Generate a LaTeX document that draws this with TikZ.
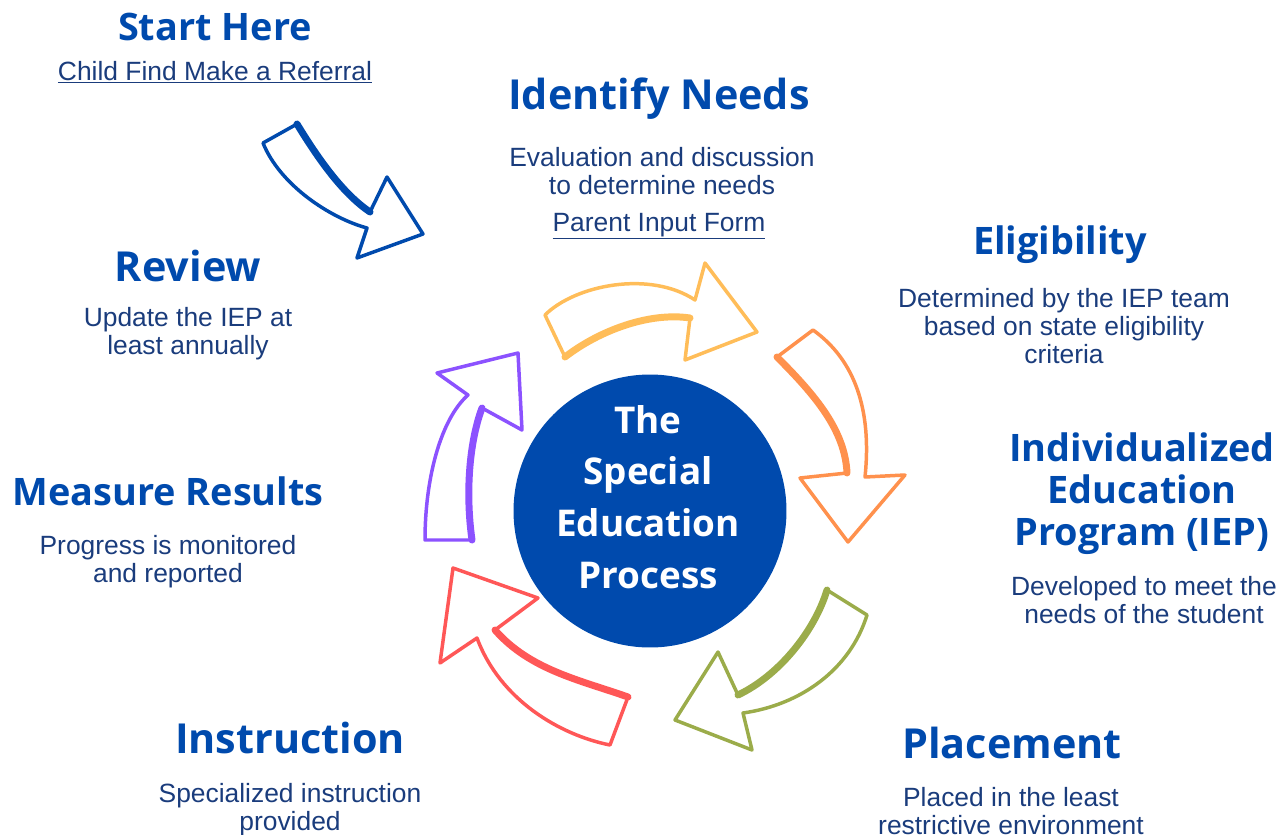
\documentclass[tikz,border=0pt]{standalone}
\usepackage{fontspec}
\setmainfont{Liberation Sans}
\newfontfamily\headfont{Open Sans}
\usetikzlibrary{positioning}
\definecolor{iepblue}{HTML}{004AAD}
\definecolor{iepnavy}{HTML}{1A3C7C}
\definecolor{iepyellow}{HTML}{FFBD59}
\definecolor{ieporange}{HTML}{FF914D}
\definecolor{iepgreen}{HTML}{9BAC4A}
\definecolor{iepred}{HTML}{FF5757}
\definecolor{ieppurple}{HTML}{8C52FF}
\tikzset{
  head/.style={text=iepblue, font=\headfont\bfseries\fontsize{38}{42}\selectfont, align=center, inner sep=0pt},
  bighead/.style={head, font=\headfont\bfseries\fontsize{41.5}{42}\selectfont},
  body/.style={text=iepnavy, font=\fontsize{26.5}{28}\selectfont, align=center, inner sep=0pt},
  sketch/.style={draw=#1, fill=white, line width=3.5, line join=round, line cap=round},
  brush/.style={draw=#1, line width=7, line cap=round},
}
\begin{document}
\begin{tikzpicture}[x=1bp,y=-1bp]
\useasboundingbox (0,0) rectangle (1286,835);

\node (start) at (215,27) [head] {Start Here};
\node (referral) at (215,72) [body] {\underline{Child Find Make a Referral}};
\node (identify) at (659,99) [bighead] {Identify Needs};
\node (identifytext) at (662,171) [body] {Evaluation and discussion\\to determine needs};
\node (parentform) at (659,226) [body] {\underline{Parent Input Form}};
\node (elig) at (1060,245) [head] {Eligibility};
\node (eligtext) at (1064,326) [body] {Determined by the IEP team\\based on state eligibility\\criteria};
\node (iep) at (1142,494) [head] {Individualized\\Education\\Program (IEP)};
\node (ieptext) at (1144,600) [body] {Developed to meet the\\needs of the student};
\node (placement) at (1012,743) [bighead] {Placement};
\node (placementtext) at (1011,811) [body] {Placed in the least\\restrictive environment};
\node (instruction) at (290,738) [bighead] {Instruction};
\node (instructiontext) at (290,810) [body] {Specialized instruction\\provided};
\node (measure) at (168,491) [head] {Measure Results};
\node (measuretext) at (168,562) [body] {Progress is monitored\\and reported};
\node (review) at (188,266) [bighead] {Review};
\node (reviewtext) at (188,334) [body] {Update the IEP at\\least annually};

\node (hub) at (650,511) [circle, fill=iepblue, minimum size=274, inner sep=0pt] {};
\node (hubtext) at (648,497) [text=white, font=\headfont\bfseries\fontsize{37}{52}\selectfont, align=center, inner sep=0pt] {The\\Special\\Education\\Process};

% start arrow
\draw[sketch=iepblue] (263,143) -- (297,124) .. controls (322,165) and (345,195) .. (370,212) -- (387,177) -- (423,234) -- (357,258) -- (367,228) .. controls (330,218) and (280,185) .. (263,143) -- cycle;
\draw[brush=iepblue] (297,124) .. controls (322,165) and (345,195) .. (370,212);

% cycle arrows
\draw[sketch=iepyellow] (545,315) .. controls (575,285) and (650,270) .. (695,300) -- (705,263) -- (757,332) -- (685,360) -- (690,318) .. controls (650,312) and (600,330) .. (565,357) -- cycle;
\draw[brush=iepyellow] (690,318) .. controls (650,312) and (600,330) .. (565,357);

\draw[sketch=ieporange] (777,357) -- (813,330) .. controls (855,360) and (872,410) .. (865,477) -- (905,475) -- (848,542) -- (800,478) -- (847,473) .. controls (845,430) and (815,395) .. (777,357) -- cycle;
\draw[brush=ieporange] (847,473) .. controls (845,430) and (815,395) .. (777,357);

\draw[sketch=iepgreen] (827,590) -- (867,615) .. controls (850,670) and (800,705) .. (743,713) -- (752,750) -- (675,720) -- (718,652) -- (738,695) .. controls (780,675) and (815,630) .. (827,590) -- cycle;
\draw[brush=iepgreen] (738,695) .. controls (780,675) and (815,630) .. (827,590);

\draw[sketch=iepred] (453,568) -- (538,598) -- (495,630) .. controls (530,670) and (580,680) .. (628,697) -- (610,745) .. controls (560,735) and (500,700) .. (477,638) -- (440,663) -- cycle;
\draw[brush=iepred] (495,630) .. controls (530,670) and (580,680) .. (628,697);

\draw[sketch=ieppurple] (425,540) -- (472,540) .. controls (465,490) and (470,440) .. (482,408) -- (522,430) -- (518,353) -- (437,373) -- (468,395) .. controls (440,420) and (425,480) .. (425,540) -- cycle;
\draw[brush=ieppurple] (472,540) .. controls (465,490) and (470,440) .. (482,408);

\end{tikzpicture}
\end{document}
